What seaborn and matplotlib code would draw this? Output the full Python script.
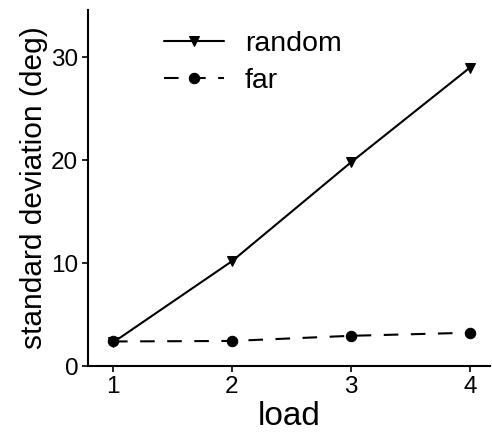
import matplotlib
matplotlib.use("Agg")
import matplotlib.pyplot as plt
import seaborn as sns
import pandas as pd

load = [1, 2, 3, 4]
random_sd = [2.3, 10.2, 19.8, 29.0]
far_sd = [2.4, 2.45, 2.95, 3.25]
series_names = ["random", "far"]
xticks = [1, 2, 3, 4]
yticks = [0, 10, 20, 30]

sns.set_theme(style="ticks")
plt.rcParams['font.family'] = ['Liberation Sans', 'DejaVu Sans']
plt.rcParams['text.color'] = 'black'
plt.rcParams['axes.labelcolor'] = 'black'

df = pd.DataFrame({
    "load": load * 2,
    "sd": random_sd + far_sd,
    "series": [series_names[0]] * 4 + [series_names[1]] * 4,
})

fig = plt.figure(figsize=(4.92, 4.38), dpi=100)
ax = fig.add_axes([0.179, 0.164, 0.817, 0.813])

sns.lineplot(data=df, x="load", y="sd", hue="series", style="series",
             palette=["black", "black"], markers={"random": "v", "far": "o"},
             dashes={"random": "", "far": (7, 6)}, markersize=7.5,
             markeredgecolor="black", linewidth=1.5, ax=ax, legend=True)

ax.set_xlim(0.79, 4.17)
ax.set_ylim(0, 34.6)
ax.set_xticks(xticks)
ax.set_yticks(yticks)
ax.tick_params(labelsize=17.5, length=4, width=1.2, direction="out", colors="black", pad=3)
for s in ["left", "bottom"]:
    ax.spines[s].set_linewidth(1.5)
    ax.spines[s].set_color("black")
sns.despine(ax=ax)
ax.set_xlabel("load", fontsize=24, labelpad=2, color="black")
ax.set_ylabel("standard deviation (deg)", fontsize=21.5, labelpad=2, color="black")

handles, labels = ax.get_legend_handles_labels()
leg = ax.legend(handles=handles, labels=labels, frameon=False, fontsize=20.5,
                loc="upper left", bbox_to_anchor=(0.125, 1.014), handlelength=2.1,
                handletextpad=0.75, labelspacing=0.4)
for t in leg.get_texts():
    t.set_color("black")

fig.savefig("out.png", dpi=100)
